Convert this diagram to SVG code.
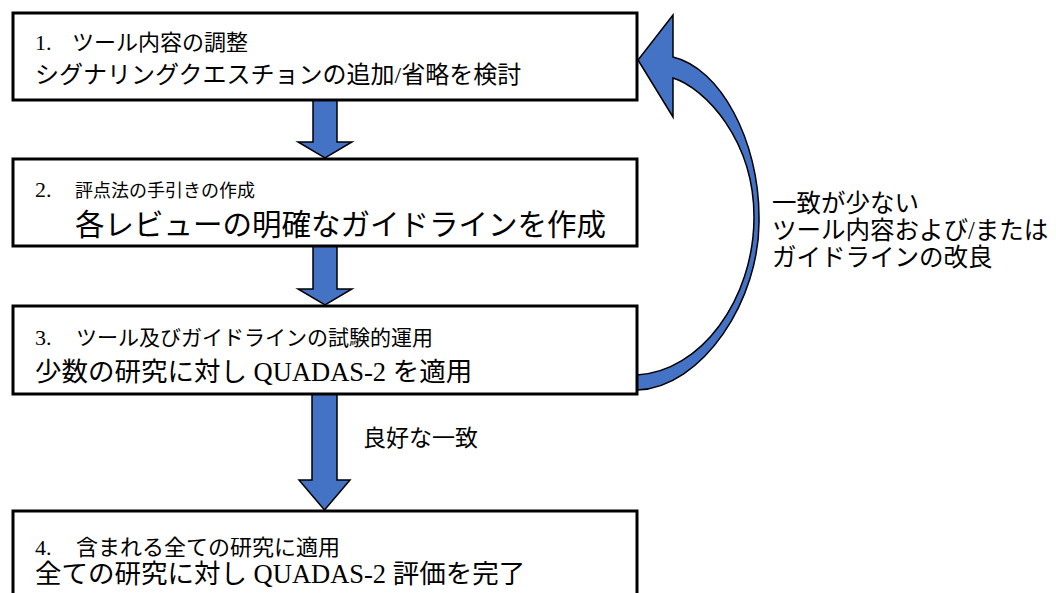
<svg xmlns="http://www.w3.org/2000/svg" width="1056" height="593" viewBox="0 0 1056 593">
<style>
.box{fill:#fff;stroke:#000;stroke-width:3}
.arr{fill:#4472C4;stroke:#000;stroke-width:1.5;stroke-linejoin:miter}
text{font-family:"Liberation Serif","Noto Sans CJK JP",serif;fill:#000}
.s{font-size:22px}
.m{font-size:23px}
.l{font-size:26.5px}
.side{font-size:24.5px}
</style>
<rect width="1056" height="593" fill="#fff"/>
<g id="connectors">
<path class="arr" d="M313,100 L337,100 L337,142 L352,142 L325,158 L298,142 L313,142 Z"/>
<path class="arr" d="M313,246 L337,246 L337,289 L352,289 L325,305 L298,289 L313,289 Z"/>
<path class="arr" d="M312,394 L337,394 L337,480 L350,480 L324.5,510 L299,480 L312,480 Z"/>
<path class="arr" d="M673,57 L673,15 L638,60 L673,117 L673,78 C705,88 754,140 754,217 C754,300 700,372 637,375 L637,390 C702,388 761,300 759,217 C759,140 720,68 673,57 Z"/>
<text class="m" x="363" y="446">良好な一致</text>
<text class="side" x="772" y="212">一致が少ない</text>
<text class="side" x="772" y="239">ツール内容および/または</text>
<text class="side" x="772" y="266">ガイドラインの改良</text>
</g>
<g id="node1">
<rect class="box" x="13" y="13" width="624" height="87"/>
<text class="s" x="35" y="50">1.<tspan x="72">ツール内容の調整</tspan></text>
<text x="35" y="83" style="font-size:24px">シグナリングクエスチョンの追加/省略を検討</text>
</g>
<g id="node2">
<rect class="box" x="13" y="159" width="624" height="87"/>
<text class="s" x="35" y="197">2.<tspan x="75" style="font-size:18px">評点法の手引きの作成</tspan></text>
<text x="75" y="235" style="font-size:29.5px">各レビューの明確なガイドラインを作成</text>
</g>
<g id="node3">
<rect class="box" x="13" y="306" width="624" height="88"/>
<text class="s" x="35" y="345">3.<tspan x="76" style="font-size:21px">ツール及びガイドラインの試験的運用</tspan></text>
<text class="l" x="35" y="381">少数の研究に対し QUADAS-2 を適用</text>
</g>
<g id="node4">
<rect class="box" x="13" y="511" width="624" height="92"/>
<text class="s" x="35" y="555">4.<tspan x="76">含まれる全ての研究に適用</tspan></text>
<text class="l" x="35" y="583">全ての研究に対し QUADAS-2 評価を完了</text>
</g>
</svg>
